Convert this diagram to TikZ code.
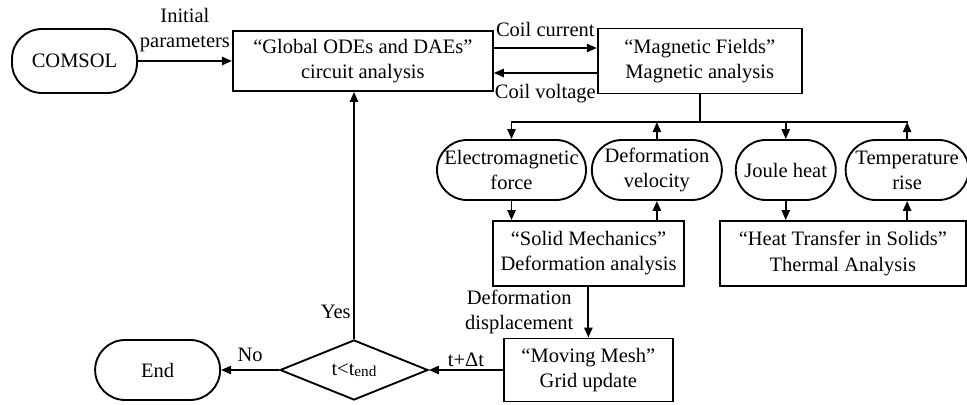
\documentclass[tikz,border=0pt]{standalone}
\usepackage{fontspec}
\setmainfont{Liberation Serif}
\usetikzlibrary{shapes,arrows.meta,positioning}

\begin{document}
\begin{tikzpicture}[auto, font=\fontsize{17.5}{21.5}\selectfont,
        block/.style={rectangle, draw, line width=1.6pt, align=center, inner sep=2pt, minimum height=1.8cm},
        term/.style={rectangle, draw, line width=1.6pt, align=center, inner sep=1pt, rounded corners=0.9cm, minimum height=1.8cm},
        decision/.style={diamond, draw, line width=1.6pt, align=center, inner sep=0pt, minimum width=4.44cm, minimum height=1.8cm},
        arrow/.style={-{Triangle[length=8.5pt,width=7pt]}, line width=1.6pt},
        bus/.style={line width=1.6pt, line cap=rect},
        lbl/.style={inner sep=0pt, align=center}]

        \useasboundingbox (0,0) rectangle (29.01,12.12);

        % Circuit and magnetic analysis (top)
        \node[term, minimum width=3.75cm, minimum height=1.92cm] (comsol) at (2.235,10.29) {COMSOL};
        \node[block, minimum width=7.8cm, right=2.82cm of comsol] (global) {“Global ODEs and DAEs”\\circuit analysis};
        \node[block, minimum width=6.12cm, minimum height=1.95cm, right=3.09cm of global] (mag) {“Magnetic Fields”\\Magnetic analysis};

        % Coupled quantities (middle)
        \node[term, minimum width=4.47cm] (elec) at (15.345,7.02) {Electromagnetic\\force};
        \node[term, minimum width=3.9cm, right=0.12cm of elec] (defvel) {Deformation\\velocity};
        \node[term, minimum width=3cm, right=0.36cm of defvel] (joule) {Joule heat};
        \node[term, minimum width=3.69cm, right=0.24cm of joule] (temp) {Temperature\\rise};

        % Solid and thermal analysis
        \node[block, minimum width=5.73cm, minimum height=1.95cm] (solid) at (17.655,4.515) {“Solid Mechanics”\\Deformation analysis};
        \node[block, minimum width=7.38cm, minimum height=1.95cm, right=1.02cm of solid] (heat) {“Heat Transfer in Solids”\\Thermal Analysis};

        % Time loop (bottom)
        \node[decision] (dec) at (10.62,1.02) {t<t\raisebox{-1pt}{\fontsize{13}{13}\selectfont end}};
        \node[block, minimum width=5.07cm, minimum height=1.89cm, right=2.22cm of dec] (moving) {“Moving Mesh”\\Grid update};
        \node[term, minimum width=3.75cm, left=1.74cm of dec] (end) {End};

        % Arrows
        \draw[arrow] (comsol) -- node[above=7pt, lbl] {Initial\\parameters} (global);
        \draw[arrow] ([yshift=0.39cm]global.east) -- node[above=8.5pt, lbl] {Coil current} ([yshift=0.39cm]global.east -| mag.west);
        \draw[arrow] ([yshift=-0.36cm]mag.west) -- node[below=8.5pt, lbl] {Coil voltage} ([yshift=-0.36cm]mag.west -| global.east);

        \coordinate (split) at ([yshift=-0.83cm]mag.south);
        \draw[bus] (mag.south) -- (split);
        \draw[bus] (split -| elec) -- (split -| temp);
        \draw[arrow] (split -| elec) -- (elec.north);
        \draw[arrow] (defvel.north) -- (defvel.north |- split);
        \draw[arrow] (split -| joule) -- (joule.north);
        \draw[arrow] (temp.north) -- (temp.north |- split);

        \draw[arrow] (elec.south) -- (elec.south |- solid.north);
        \draw[arrow] (defvel.south |- solid.north) -- (defvel.south);
        \draw[arrow] (joule.south) -- (joule.south |- heat.north);
        \draw[arrow] (temp.south |- heat.north) -- (temp.south);

        \draw[arrow] (solid.south -| moving.north) -- node[left=12pt, lbl] {Deformation\\displacement} (moving.north);
        \draw[arrow] (moving) -- node[above=2pt, lbl] {t+Δt} (dec);
        \draw[arrow] (dec) -- node[above=6pt, lbl] {No} (end);
        \draw[arrow] (dec.north) -- node[pos=0.11, left=2pt, lbl] {Yes} (dec.north |- global.south);
    \end{tikzpicture}
\end{document}
